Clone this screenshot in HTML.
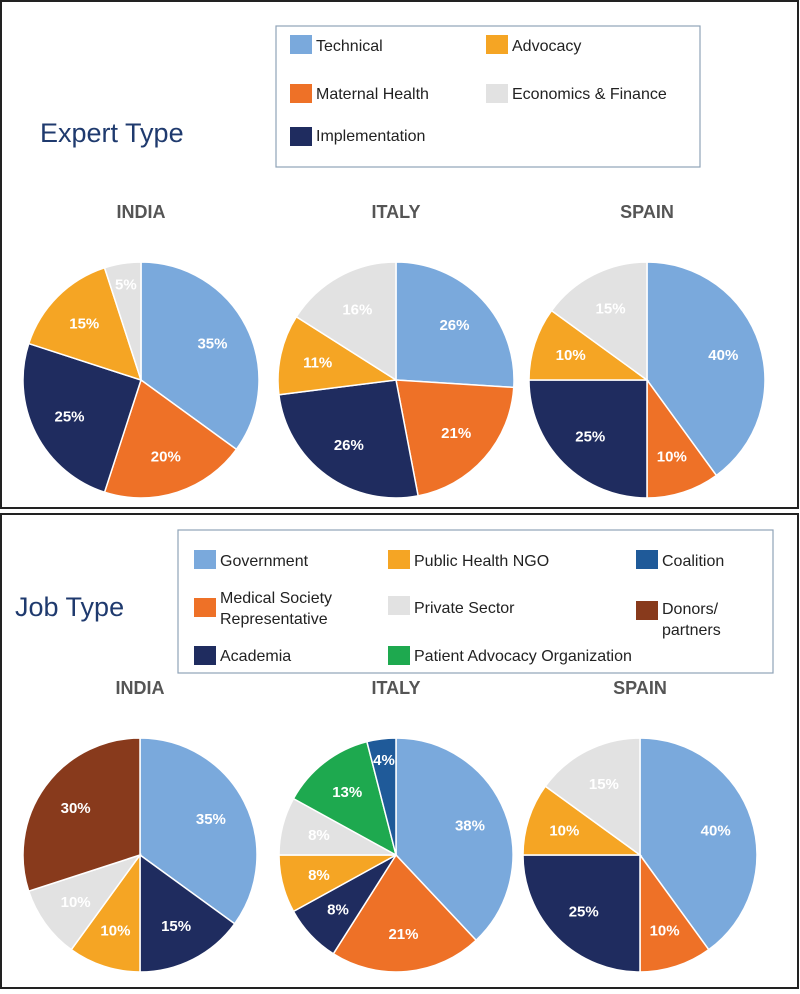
<!DOCTYPE html>
<html><head><meta charset="utf-8"><style>
body{margin:0;width:800px;height:989px;background:#fff;font-family:"Liberation Sans",sans-serif;overflow:hidden}
</style></head><body>
<svg id="svg" width="800" height="989" xmlns="http://www.w3.org/2000/svg" font-family="Liberation Sans, sans-serif">
<rect x="1" y="1" width="797" height="507" fill="none" stroke="#222" stroke-width="2"/>
<rect x="1" y="514" width="797" height="474" fill="none" stroke="#222" stroke-width="2"/>
<text x="40" y="142" font-size="27" fill="#1f3a6e">Expert Type</text>
<text x="15" y="616" font-size="27" fill="#1f3a6e">Job Type</text>
<g id="legend1">
<rect x="276" y="26" width="424" height="141" fill="#fff" stroke="#8fa3b8" stroke-width="1.2"/>
</g>
<g id="legend2">
<rect x="178" y="530" width="595" height="143" fill="#fff" stroke="#8fa3b8" stroke-width="1.2"/>
</g>
<g id="pies"></g>
</svg>
<script>
const expertCategories=["Technical","Maternal Health","Implementation","Advocacy","Economics & Finance"];
const expertColors=["#7aa9dc","#ee7127","#1f2c5f","#f5a524","#e2e2e2"];
const expertIndia=[35,20,25,15,5];
const expertItaly=[26,21,26,11,16];
const expertSpain=[40,10,25,10,15];
const jobCategories=["Government","Medical Society Representative","Academia","Public Health NGO","Private Sector","Patient Advocacy Organization","Coalition","Donors/partners"];
const jobColors=["#7aa9dc","#ee7127","#1f2c5f","#f5a524","#e2e2e2","#1ea94f","#1f5a99","#883a1c"];
const jobIndia=[35,0,15,10,10,0,0,30];
const jobItaly=[38,21,8,8,8,13,4,0];
const jobSpain=[40,10,25,10,15,0,0,0];
const countries=["INDIA","ITALY","SPAIN"];
const NS="http://www.w3.org/2000/svg";
const pies=document.getElementById('pies');
function mk(tag,attrs,parent){const e=document.createElementNS(NS,tag);for(const k in attrs)e.setAttribute(k,attrs[k]);parent.appendChild(e);return e;}
function drawPie(vals,colors,cats,cx,cy,r,country,section,titleY){
  const t=mk('text',{x:cx,y:titleY,'text-anchor':'middle','font-size':18,'font-weight':'bold',fill:'#555'},pies);
  
  
  t.textContent=country;
  const total=vals.reduce((a,b)=>a+b,0);let acc=0;
  vals.forEach((v,i)=>{
    if(v<=0)return;
    const a0=acc/total*2*Math.PI,a1=(acc+v)/total*2*Math.PI;acc+=v;
    const x0=cx+r*Math.sin(a0),y0=cy-r*Math.cos(a0),x1=cx+r*Math.sin(a1),y1=cy-r*Math.cos(a1);
    const large=(a1-a0)>Math.PI?1:0;
    const p=mk('path',{d:`M${cx},${cy} L${x0},${y0} A${r},${r} 0 ${large} 1 ${x1},${y1} Z`,fill:colors[i],stroke:'#fff','stroke-width':1.5},pies);
    
    
    const am=(a0+a1)/2,lr=r*(v<8?0.82:0.68);
    const lt=mk('text',{x:cx+lr*Math.sin(am),y:cy-lr*Math.cos(am)+5,'text-anchor':'middle','font-size':15,'font-weight':'bold',fill:'#fff'},pies);
    
    
    lt.textContent=v+'%';
  });
}
const ex=[141,396,647],jx=[140,396,640];
[expertIndia,expertItaly,expertSpain].forEach((d,i)=>drawPie(d,expertColors,expertCategories,ex[i],380,118,countries[i],'expert',218));
[jobIndia,jobItaly,jobSpain].forEach((d,i)=>drawPie(d,jobColors,jobCategories,jx[i],855,117,countries[i],'job',694));
function legendItem(g,sx,sy,color,lines,ty,name){
  const s=mk('rect',{x:sx,y:sy,width:22,height:19,fill:color},g);
  
  
  lines.forEach((ln,k)=>{
    const t=mk('text',{x:sx+26,y:ty+k*21,'font-size':16,fill:'#222'},g);
    
    
    t.textContent=ln;
  });
}
const L1=document.getElementById('legend1');
legendItem(L1,290,35,expertColors[0],["Technical"],51,'legend-technical');
legendItem(L1,486,35,expertColors[3],["Advocacy"],51,'legend-advocacy');
legendItem(L1,290,84,expertColors[1],["Maternal Health"],99,'legend-maternal-health');
legendItem(L1,486,84,expertColors[4],["Economics & Finance"],99,'legend-economics-finance');
legendItem(L1,290,127,expertColors[2],["Implementation"],141,'legend-implementation');
const L2=document.getElementById('legend2');
legendItem(L2,194,550,jobColors[0],["Government"],566,'legend-government');
legendItem(L2,388,550,jobColors[3],["Public Health NGO"],566,'legend-public-health-ngo');
legendItem(L2,636,550,jobColors[6],["Coalition"],566,'legend-coalition');
legendItem(L2,194,598,jobColors[1],["Medical Society","Representative"],603,'legend-medical-society');
legendItem(L2,388,596,jobColors[4],["Private Sector"],613,'legend-private-sector');
legendItem(L2,636,601,jobColors[7],["Donors/","partners"],614,'legend-donors-partners');
legendItem(L2,194,646,jobColors[2],["Academia"],661,'legend-academia');
legendItem(L2,388,646,jobColors[5],["Patient Advocacy Organization"],661,'legend-patient-advocacy');
</script>
</body></html>
